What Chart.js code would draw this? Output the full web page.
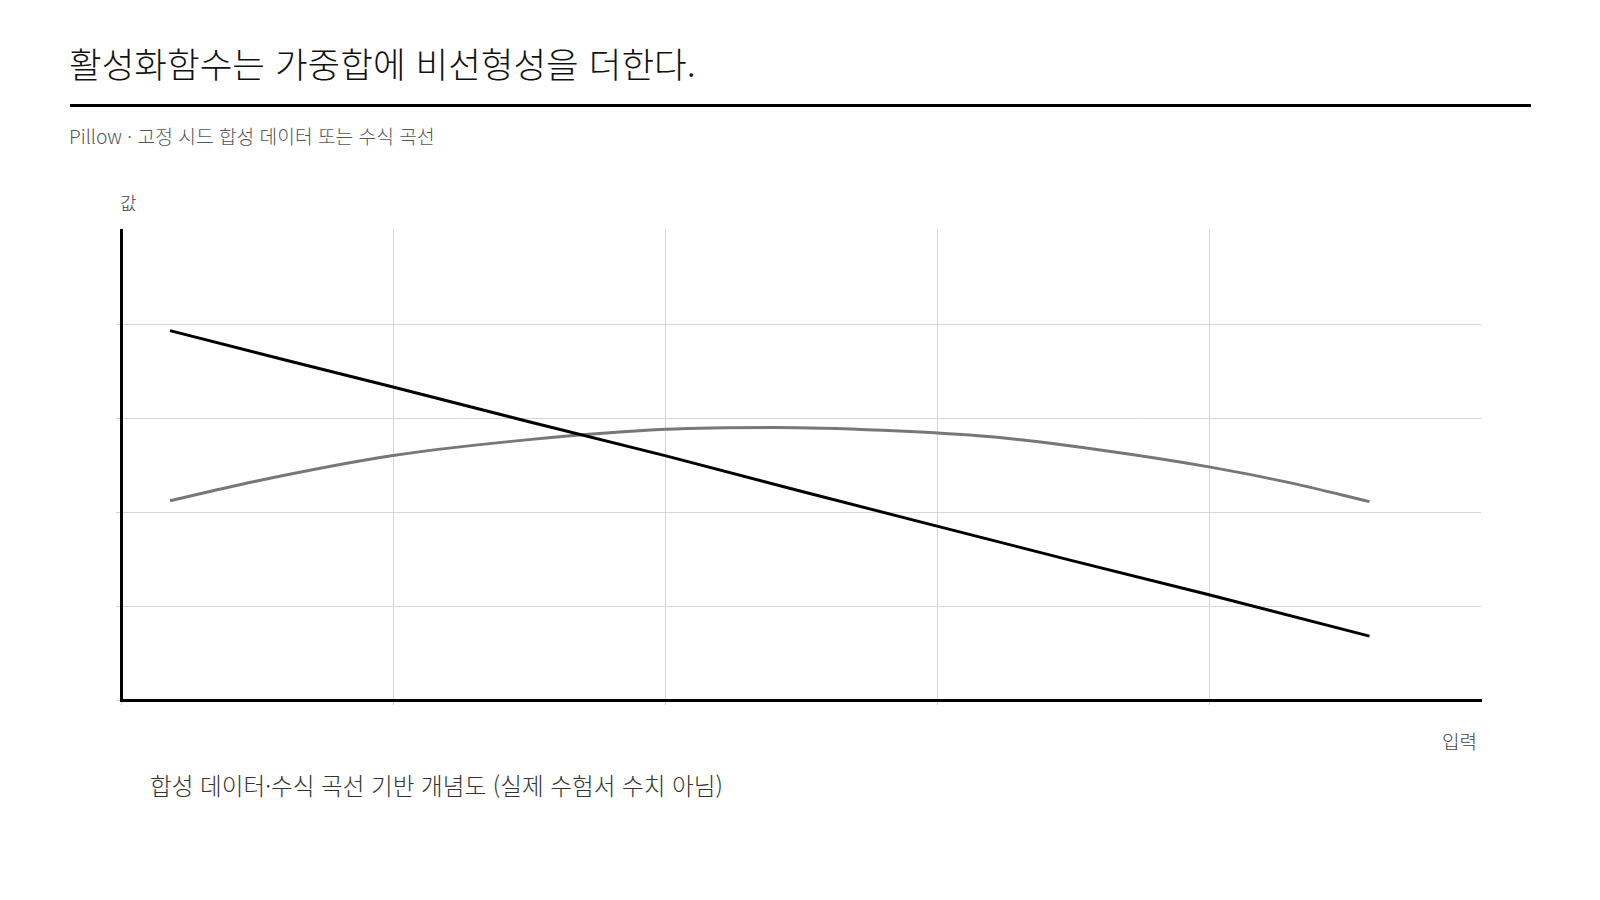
<!DOCTYPE html>
<html lang="ko">
<head>
<meta charset="utf-8">
<title>활성화함수</title>
<script src="https://cdn.jsdelivr.net/npm/chart.js@4.4.1/dist/chart.umd.min.js"></script>
<style>
  html, body { margin: 0; padding: 0; background: #fff; }
  body { width: 1600px; height: 900px; position: relative; overflow: hidden;
         font-family: "Noto Sans CJK KR", "Noto Sans", sans-serif; }
  .t { position: absolute; white-space: nowrap; line-height: 1; }
  #title { left: 69px; top: 45px; font-size: 35.5px; font-weight: 300; color: #111; }
  #rule { position: absolute; left: 70px; top: 104px; width: 1461px; height: 3px; background: #000; }
  #sub { left: 69px; top: 127px; font-size: 19.2px; font-weight: 300; color: #555; }
  #ylab { left: 120px; top: 193px; font-size: 18px; font-weight: 300; color: #444; }
  #xlab { right: 123px; top: 731px; font-size: 19px; font-weight: 300; color: #444; }
  #foot { left: 150px; top: 774px; font-size: 23.6px; font-weight: 300; color: #333; }
  #c { position: absolute; left: 0; top: 0; }
</style>
</head>
<body>
<div class="t" id="title">활성화함수는 가중합에 비선형성을 더한다.</div>
<div id="rule"></div>
<div class="t" id="sub">Pillow · 고정 시드 합성 데이터 또는 수식 곡선</div>
<div class="t" id="ylab">값</div>
<div class="t" id="xlab">입력</div>
<div class="t" id="foot">합성 데이터·수식 곡선 기반 개념도 (실제 수험서 수치 아님)</div>
<canvas id="c" width="1600" height="900"></canvas>
<script>
// values (x: 입력, y: 값)
const linearX = [0.18, 0.6, 1, 1.5, 2, 2.5, 3, 3.5, 4, 4.59];
const linearY = [3.93, 3.62, 3.33, 2.96, 2.60, 2.22, 1.85, 1.48, 1.12, 0.68];

const curveX = [0.18, 0.5, 1, 1.5, 2, 2.4, 2.8, 3.2, 3.6, 4, 4.3, 4.59];
const curveY = [2.12, 2.33, 2.60, 2.77, 2.88, 2.90, 2.87, 2.80, 2.66, 2.48, 2.31, 2.11];

const axisMax = 5;

const toPoints = (xs, ys) => xs.map((x, i) => ({ x: x, y: ys[i] }));

document.addEventListener("DOMContentLoaded", () => {
  const gridColor = ctx => (ctx.tick && ctx.tick.value === axisMax) ? 'rgba(0,0,0,0)' : '#d4d4d4';

  const scale = {
    type: 'linear',
    min: 0,
    max: axisMax,
    ticks: { display: false, stepSize: 1 },
    grid: { color: gridColor, lineWidth: 1, tickLength: 5 },
    border: { display: true, color: '#000', width: 3 }
  };

  new Chart(document.getElementById('c'), {
    type: 'line',
    data: {
      datasets: [
        {
          label: 'linear',
          data: toPoints(linearX, linearY),
          borderColor: '#000',
          borderWidth: 3,
          pointRadius: 0,
          tension: 0
        },
        {
          label: 'curve',
          data: toPoints(curveX, curveY),
          borderColor: '#777',
          borderWidth: 3,
          pointRadius: 0,
          cubicInterpolationMode: 'monotone'
        }
      ]
    },
    options: {
      responsive: false,
      animation: false,
      devicePixelRatio: 1,
      layout: { padding: { left: 116, right: 119, top: 230, bottom: 195 } },
      plugins: {
        legend: { display: false },
        tooltip: { enabled: false }
      },
      scales: { x: scale, y: scale }
    }
  });
});
</script>
</body>
</html>
